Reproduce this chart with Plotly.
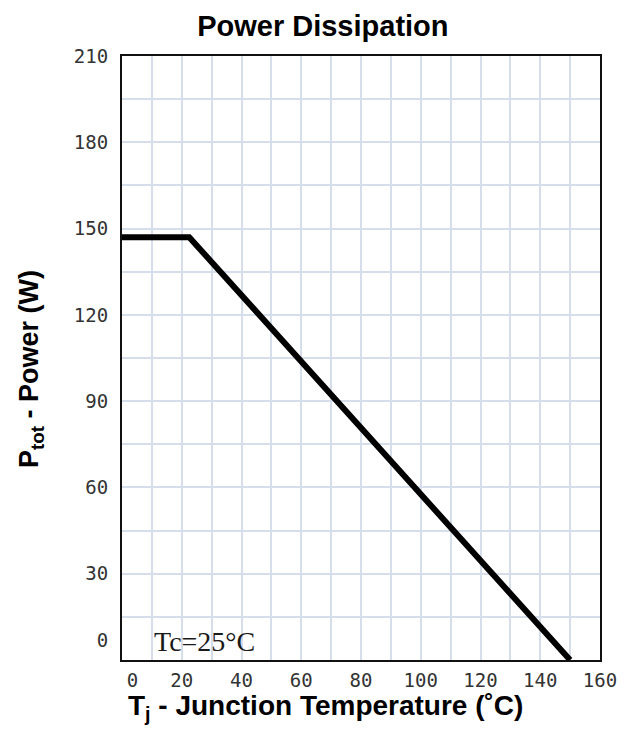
import plotly.graph_objects as go

# Data
temp_c = [0, 22.5, 150]
power_w = [147, 147, 0]

x_ticks = [0, 20, 40, 60, 80, 100, 120, 140, 160]
y_ticks = [0, 30, 60, 90, 120, 150, 180, 210]
x_range = [0, 160]
y_range = [0, 210]
x_minor_step = 10
y_minor_step = 15

title_text = "Power Dissipation"
x_title = "T<sub>j</sub> - Junction Temperature (˚C)"
y_title = "P<sub>tot</sub> - Power (W)"
annotation_text = "Tc=25°C"
annotation_pos = (10.0, 6.5)

fig = go.Figure()
fig.add_trace(go.Scatter(
    x=temp_c, y=power_w, mode="lines",
    line=dict(color="black", width=6),
    showlegend=False, hoverinfo="skip",
))

grid_color = "#d6ddeb"
tick_font = dict(family="DejaVu Sans Mono", size=19, color="#333333")
bold_font = dict(family="Liberation Sans", size=28, color="black", weight="bold")

# label positions: the first label in the reference is nudged inward
x_label_pos = [v + (3.5 if v == x_ticks[0] else 0) for v in x_ticks]
y_label_pos = [v + (7 if v == y_ticks[0] else 0) for v in y_ticks]

fig.update_xaxes(
    range=x_range, tickvals=x_label_pos, ticktext=[str(v) for v in x_ticks],
    showgrid=False, zeroline=False,
    minor=dict(dtick=x_minor_step, tick0=0, showgrid=True, gridcolor=grid_color, gridwidth=1.5),
    showline=True, linecolor="#111", linewidth=2, mirror=True,
    ticks="", tickfont=tick_font, ticklabelstandoff=2,
)
fig.update_yaxes(
    range=y_range, tickvals=y_label_pos, ticktext=[str(v) for v in y_ticks],
    showgrid=False, zeroline=False,
    minor=dict(dtick=y_minor_step, tick0=0, showgrid=True, gridcolor=grid_color, gridwidth=1.5),
    showline=True, linecolor="#111", linewidth=2, mirror=True,
    ticks="", tickfont=tick_font, ticklabelstandoff=8,
)

fig.add_annotation(
    x=annotation_pos[0], y=annotation_pos[1], text=annotation_text,
    showarrow=False, xanchor="left", yanchor="middle",
    font=dict(family="Liberation Serif", size=28, color="#1a1a1a"),
)
# axis titles (the reference centres them off the plot centre)
fig.add_annotation(
    xref="paper", yref="paper", x=0.425, y=0, yshift=-47,
    text=x_title, showarrow=False, xanchor="center", yanchor="middle",
    font=bold_font,
)
fig.add_annotation(
    xref="paper", yref="paper", x=-0.19, y=0.482,
    text=y_title, showarrow=False, xanchor="center", yanchor="middle",
    textangle=-90, font=dict(family="Liberation Sans", size=27, color="black", weight="bold"),
)

fig.update_layout(
    width=621, height=727,
    margin=dict(l=114, r=23, t=48, b=75),
    paper_bgcolor="white", plot_bgcolor="white",
    title=dict(text=title_text, x=0.507, xanchor="center", y=0.975, yanchor="middle",
               font=dict(family="Liberation Sans", size=29, color="black", weight="bold")),
)

fig.write_html("out.html")
